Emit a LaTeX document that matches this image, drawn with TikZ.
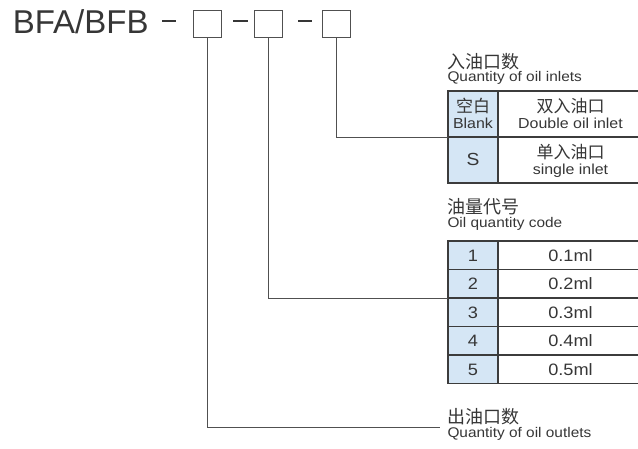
\documentclass[tikz,border=0pt]{standalone}
\usepackage{fontspec}
\setmainfont{Liberation Sans}
\newfontfamily\lat[FakeStretch=1.1]{Liberation Sans}
\newfontfamily\cjk{Noto Sans CJK SC}
\usetikzlibrary{positioning}
\begin{document}
\begin{tikzpicture}[x=1pt,y=-1pt,
        caja/.style={draw=gris,line width=0.9pt,minimum width=28pt,minimum height=27pt,inner sep=0pt},
        linea/.style={draw=gris,line width=0.9pt},
        guion/.style={draw=texto,line width=2.2pt},
        celda/.style={draw=borde,line width=1.2pt,inner sep=0pt,outer sep=0pt,minimum height=#1,text=texto},
        celda/.default=28.5pt,
        izq/.style={celda=#1,fill=azul,minimum width=50pt},
        izq/.default=28.5pt,
        der/.style={celda=#1,minimum width=145pt},
        der/.default=28.5pt,
        num/.style={font=\lat\fontsize{16.5}{18}\selectfont,text height=11.8pt,text depth=0pt},
        zh/.style={font=\cjk\fontsize{17}{19}\selectfont,text=texto,anchor=base,inner sep=0pt},
        en/.style={font=\lat\fontsize{14.5}{16}\selectfont,text=texto,anchor=base,inner sep=0pt},
        tit/.style={font=\cjk\fontsize{18}{20}\selectfont,text=texto,anchor=base west,inner sep=0pt},
        sub/.style={font=\lat\fontsize{14}{16}\selectfont,text=texto,anchor=base west,inner sep=0pt}]
        %colores
        \definecolor{texto}{HTML}{363636}
        \definecolor{gris}{HTML}{505050}
        \definecolor{borde}{HTML}{3C3C3C}
        \definecolor{azul}{HTML}{D5E6F5}
        \useasboundingbox (0,0) rectangle (638,448);

        % Codigo del modelo
        \node[font=\fontsize{33}{37}\selectfont,text=texto,anchor=base west,inner sep=0pt] (modelo) at (12.6,33) {BFA/BFB};
        \node[caja] (b1) at (207.5,23.5) {};
        \node[caja] (b2) at (268,23.5) {};
        \node[caja] (b3) at (336,23.5) {};
        \draw[guion] (162,21) -- (176,21) (233,21) -- (248,21) (298,21) -- (312,21);

        % Tabla 1, entradas
        \node[tit] (h1) at (447,68.7) {入油口数};
        \node[sub] (s1) at (447.3,81) {Quantity of oil inlets};
        \node[izq=46pt] (k1) at (473,114) {};
        \node[der=46pt,right=0pt of k1] (v1) {};
        \node[izq=46pt,below=0pt of k1,num,font=\lat\fontsize{17.5}{19}\selectfont] (k2) {S};
        \node[der=46pt,right=0pt of k2] (v2) {};
        \node[zh] (k1a) at ([yshift=2pt]k1.center) {空白};
        \node[en] (k1b) at ([yshift=-14pt]k1.center) {Blank};
        \node[zh] (v1a) at ([yshift=2pt]v1.center) {双入油口};
        \node[en] (v1b) at ([yshift=-14pt]v1.center) {Double oil inlet};
        \node[zh] (v2a) at ([yshift=2pt]v2.center) {单入油口};
        \node[en] (v2b) at ([yshift=-14pt]v2.center) {single inlet};

        % Tabla 2, cantidad
        \node[tit] (h2) at (447,213.7) {油量代号};
        \node[sub] (s2) at (447.3,227) {Oil quantity code};
        \foreach \n/\v in {1/0.1ml,2/0.2ml,3/0.3ml,4/0.4ml,5/0.5ml}{
            \node[izq,num] (c\n) at (473,{241+28.5*(\n-0.5)}) {\n};
            \node[der,num,right=0pt of c\n] (m\n) {\v};
        }

        % Salidas
        \node[tit] (h3) at (447,423) {出油口数};
        \node[sub] (s3) at (447.3,437.5) {Quantity of oil outlets};
        \coordinate (fin) at (440,427);

        % Lineas
        \draw[linea] (b1.south) |- (fin);
        \draw[linea] (b2.south) |- (c2.south west);
        \draw[linea] (b3.south) |- (k1.south west);
    \end{tikzpicture}
\end{document}
